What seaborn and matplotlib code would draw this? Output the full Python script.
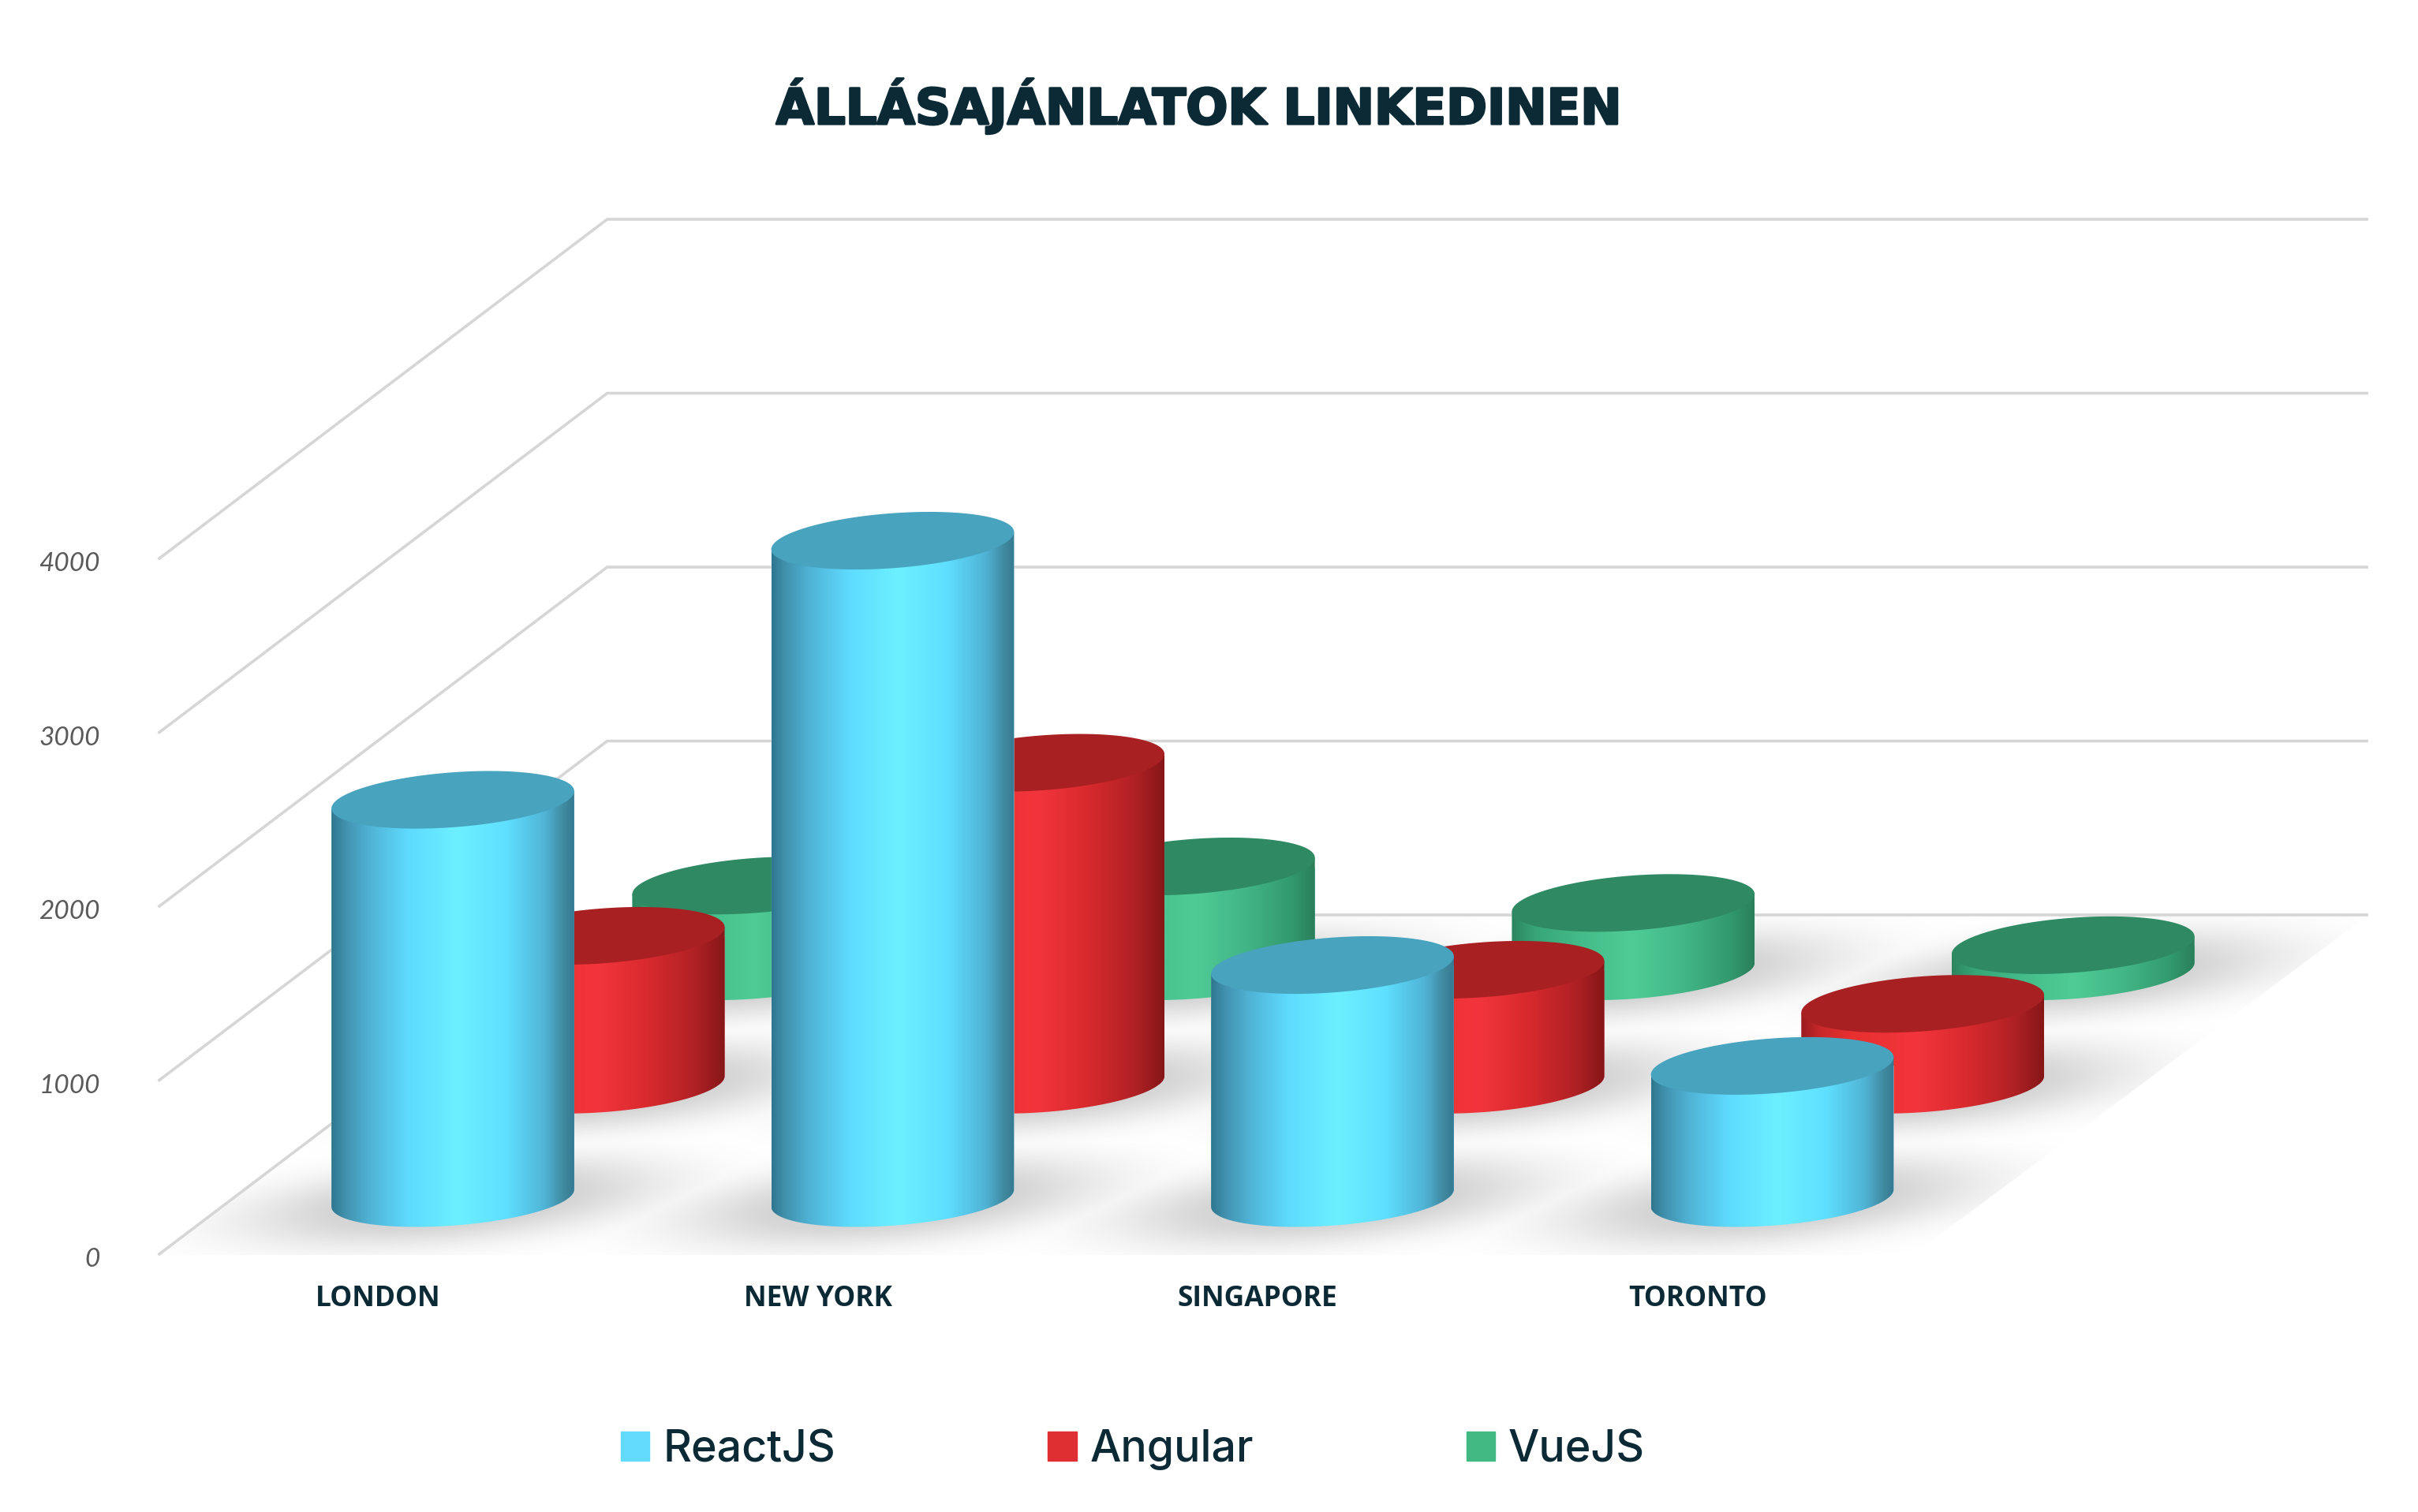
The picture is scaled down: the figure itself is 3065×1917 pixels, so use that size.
import numpy as np
import pandas as pd
import matplotlib
matplotlib.use("Agg")
import matplotlib.pyplot as plt
import matplotlib.patheffects as pe
from matplotlib.colors import LinearSegmentedColormap
from matplotlib.patches import Patch, PathPatch, Polygon
from matplotlib.path import Path
import seaborn as sns

# --- Data ---
cities = ["LONDON", "NEW YORK", "SINGAPORE", "TORONTO"]
series_names = ["ReactJS", "Angular", "VueJS"]
react_jobs = [2290, 3780, 1340, 760]
angular_jobs = [856, 1851, 661, 465]
vue_jobs = [493, 603, 393, 150]
y_ticks = [0, 1000, 2000, 3000, 4000]

# --- Look ---
INK = "#0b2a35"
GRID = "#d6d6d6"
legend_colors = ["#61dafb", "#e02f33", "#42b883"]
top_colors = ["#48a3bf", "#a92023", "#2f8a63"]
shade_stops = [
    [(0, "#2f7790"), (.06, "#4293b0"), (.16, "#50b4d6"), (.32, "#5edbff"), (.52, "#6cf0ff"),
     (.72, "#5fdfff"), (.88, "#50b4d6"), (.96, "#40899f"), (1, "#357a93")],
    [(0, "#9a1c1e"), (.08, "#c9282b"), (.2, "#e8302f"), (.48, "#f2353c"), (.68, "#d92a2e"),
     (.88, "#b02124"), (1, "#861618")],
    [(0, "#2d8560"), (.1, "#38a678"), (.3, "#45bd8a"), (.5, "#4fcc96"), (.72, "#42b585"),
     (.9, "#329a6e"), (1, "#2a7f5b")],
]

# one category = 557.5 px, 1000 jobs = 220.5 px, first ReactJS base sits at (574, 1519)
FIG_W, FIG_H = 3065, 1917
PX_X, PX_Y = 557.5, 220.5 / 1000
X0, Y0 = 574.0, 1519.0
DEPTH_X, DEPTH_Y = 0.342, 652.0      # step back per series
BAR_W = 0.552
TILT, ELL_B = 50.0, 158.0            # ellipse shape in value units
FRONT_X, FRONT_Y = -0.670, -327.0    # floor front-left corner
BACK_X, BACK_Y = 0.351, 1628.0       # floor back-left corner
BACK_END = 4.355
FLOOR_RIGHT = 3.32

sns.set_theme(style="white")
fig = plt.figure(figsize=(FIG_W / 100, FIG_H / 100), dpi=100, facecolor="white")
ax = fig.add_axes([0, 0, 1, 1])
xlim = (-X0 / PX_X, (FIG_W - X0) / PX_X)
ylim = ((Y0 - FIG_H) / PX_Y, Y0 / PX_Y)


def ellipse_xy(cx, cy, a, t):
    return cx + a * np.cos(t), cy + ELL_B * np.sin(t) + TILT * np.cos(t)


# --- Floor shadow ---
values_by_series = [react_jobs, angular_jobs, vue_jobs]
gx = np.linspace(*xlim, 900)
gy = np.linspace(*ylim, 560)
xx, yy = np.meshgrid(gx, gy)
shadow = np.zeros_like(xx)
for s in range(len(series_names)):
    for c in range(len(cities)):
        bx = c + s * DEPTH_X
        by = s * DEPTH_Y
        dx = (xx - bx) / 0.46
        # shadow leans up to the right like the floor does
        dy = (yy - by - 0.09 * (xx - bx) * PX_X / PX_Y + 25) / 225
        blob = np.clip(1.35 * np.exp(-(dx ** 2 + dy ** 2) ** 1.3), 0, 1)
        shadow = np.maximum(shadow, blob)
rgba = np.zeros(xx.shape + (4,))
rgba[..., 3] = shadow * 0.165
img = ax.imshow(rgba, extent=(*xlim, *ylim), origin="lower", aspect="auto", zorder=1,
                interpolation="bilinear")
floor = Polygon([(FRONT_X, FRONT_Y), (BACK_X, BACK_Y), (BACK_END, BACK_Y), (FLOOR_RIGHT, FRONT_Y)],
                closed=True, transform=ax.transData, facecolor="none", edgecolor="none")
ax.add_patch(floor)
img.set_clip_path(floor)

# --- Grid: side wall and back wall ---
for v in y_ticks:
    ax.plot([FRONT_X, BACK_X, BACK_END], [FRONT_Y + v, BACK_Y + v, BACK_Y + v],
            color=GRID, lw=2.6, zorder=2, solid_capstyle="butt", solid_joinstyle="miter")
    ax.text(FRONT_X - 0.132, FRONT_Y + v - 28, str(v), ha="right", va="center", fontsize=24,
            family="Lato", style="italic", color="#5a5a5a", zorder=2)

# --- Cylinders, back row first ---
t_low = np.linspace(np.pi, 2 * np.pi, 80)
t_all = np.linspace(0, 2 * np.pi, 160)
for s in reversed(range(len(series_names))):
    df = pd.DataFrame({"pos": np.arange(len(cities)) + s * DEPTH_X, "jobs": values_by_series[s]})
    before = len(ax.patches)
    z = 3 + 3 * (2 - s)
    sns.barplot(data=df, x="pos", y="jobs", native_scale=True, width=BAR_W, bottom=s * DEPTH_Y,
                color=legend_colors[s], saturation=1, errorbar=None, ax=ax, zorder=z)
    cmap = LinearSegmentedColormap.from_list(series_names[s], shade_stops[s])
    for bar in ax.patches[before:]:
        x0, w = bar.get_x(), bar.get_width()
        base, top = bar.get_y(), bar.get_y() + bar.get_height()
        cx, a = x0 + w / 2, w / 2
        lx, ly = ellipse_xy(cx, base, a, t_low)
        verts = list(zip(lx, ly)) + [(cx + a, top + TILT), (cx - a, top - TILT), (cx - a, base - TILT)]
        body = PathPatch(Path(verts, closed=False), transform=ax.transData, facecolor="none",
                         edgecolor="none")
        ax.add_patch(body)
        bar.set_clip_path(body)
        grad = ax.imshow(np.linspace(0, 1, 256)[None, :], cmap=cmap, aspect="auto", zorder=z + 1,
                         extent=(x0, x0 + w, base - 2 * ELL_B, top + 2 * TILT), interpolation="bilinear")
        grad.set_clip_path(body)
        tx, ty = ellipse_xy(cx, top, a, t_all)
        ax.fill(tx, ty, color=top_colors[s], lw=0, zorder=z + 2)

# --- Category labels ---
for i, city in enumerate(cities):
    ax.text(i - 0.170, -582, city, ha="center", va="center", fontsize=25.5, weight="bold",
            family="Open Sans", color=INK)

ax.set_xlim(*xlim)
ax.set_ylim(*ylim)
ax.axis("off")

# --- Title ---
title = ax.text(1520 / FIG_W, 1 - 135 / FIG_H, "ÁLLÁSAJÁNLATOK LINKEDINEN", transform=ax.transAxes, ha="center",
                va="center", fontsize=45, weight="bold", family="DejaVu Sans", color=INK)
title.set_path_effects([pe.withStroke(linewidth=2, foreground=INK)])

# --- Legend ---
handles = [Patch(color=c, label=n) for c, n in zip(legend_colors, series_names)]
ax.legend(handles=handles, loc="center", bbox_to_anchor=(0.4685, 1 - 1838 / FIG_H), ncol=3, frameon=False,
          prop={"family": "Inter", "size": 40, "weight": "medium"}, labelcolor=INK, handlelength=0.66,
          handleheight=0.66, handletextpad=0.3, columnspacing=4.85, borderpad=0, borderaxespad=0)

fig.savefig("out.png", dpi=100)
